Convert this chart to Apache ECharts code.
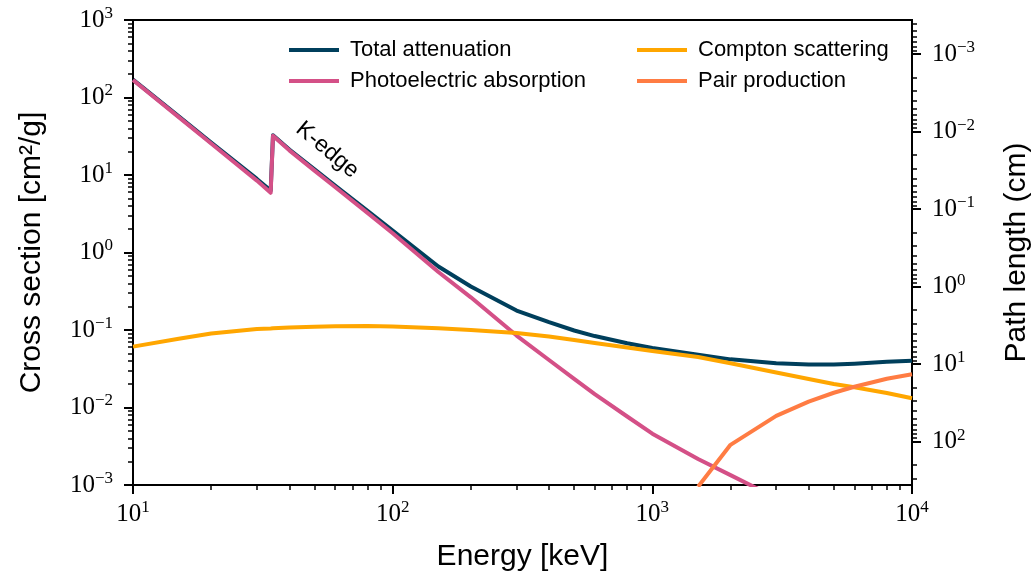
<!DOCTYPE html>
<html><head><meta charset="utf-8">
<script src="https://cdn.jsdelivr.net/npm/echarts@6/dist/echarts.min.js"></script>
<style>html,body{margin:0;padding:0;background:#fff}#c{width:1036px;height:576px}</style>
</head><body><div id="c"></div>
<script>
// ---- data ----
const energies = [10,15,20,30,33.9,34.6,40,50,60,80,100,150,200,300,400,500,600,800,1000,1500,2000,3000,4000,5000,6000,8000,10000];
const totalAttenuation = [170,57,26.2,8.9,6.3,32.5,21.3,11.8,7.3,3.45,1.92,0.66,0.365,0.178,0.126,0.0985,0.0835,0.0675,0.0585,0.0478,0.0418,0.0372,0.0360,0.0358,0.0368,0.0388,0.0400];
const photoelectric = [168,55.8,25.5,8.47,5.9,32,20.8,11.4,7.0,3.24,1.77,0.56,0.264,0.0847,0.041,0.0234,0.01486,0.00765,0.0046,0.00216,0.00134,0.00068,null,null,null,null,null];
const compton = [0.0610,0.0773,0.0902,0.103,0.1045,0.105,0.1076,0.110,0.1117,0.1127,0.1107,0.105,0.100,0.0914,0.0824,0.0743,0.0679,0.0594,0.0536,0.0449,0.0372,0.0283,0.0233,0.0201,0.0183,0.0154,0.01315];
const pairProduction = [null,null,null,null,null,null,null,null,null,null,null,null,null,null,null,null,null,null,null,0.00095,0.0033,0.0078,0.0119,0.0155,0.0185,0.0235,0.0268];
const seriesNames = ['Total attenuation','Photoelectric absorption','Compton scattering','Pair production'];
const energyTicks = [10,100,1000,10000];
const sectionTicks = [1e-3,1e-2,1e-1,1,10,100,1000];
const pathTicks = [1e-3,1e-2,1e-1,1,10,100];
const DENSITY = 2.76; // g/cm^3, links cross section to path length
const SECTION_MIN = 1e-3, SECTION_MAX = 1e3;

// ---- helpers ----
const lg = Math.log10;
function pairs(vals){ const out=[]; energies.forEach((e,i)=>{ if(vals[i]!=null) out.push([e, vals[i]]); }); return out; }
function minorExps(majors){ const out=[]; [majors[0]/10].concat(majors).forEach(m=>{ for(let k=2;k<=9;k++) out.push(lg(m*k)); }); return out; }
function supLabel(e){ e=Math.round(e); return '{b|10}{s|'+String(e).replace('-','\u2212')+'}'; }
const rich = {
  b:{fontFamily:'Liberation Serif',fontSize:25,color:'#000',lineHeight:30},
  s:{fontFamily:'Liberation Serif',fontSize:17,color:'#000',lineHeight:20,verticalAlign:'top'}
};
const colors = ['#003f5c','#d45087','#ffa600','#ff7c43'];
const sans = 'Liberation Sans';
const pathLo = lg(1/(DENSITY*SECTION_MAX)), pathHi = lg(1/(DENSITY*SECTION_MIN));
const xLo = lg(energyTicks[0]), xHi = lg(energyTicks[energyTicks.length-1]);
const yLo = lg(SECTION_MIN), yHi = lg(SECTION_MAX);

const noLine = {show:false, onZero:false};
const titleStyle = {fontFamily:sans, fontSize:30, color:'#000'};
function within(arr, lo, hi){ return arr.filter(v=>v>lo+1e-9 && v<hi-1e-9); }
function majorAxis(lo, hi, ticks, extra){
  return Object.assign({type:'value', min:lo, max:hi, axisLine:noLine, splitLine:{show:false},
    axisTick:{show:true, inside:false, length:9, customValues:ticks, lineStyle:{color:'#000', width:2}},
    axisLabel:{show:true, customValues:ticks, formatter:supLabel, rich:rich, margin:20}}, extra);
}
function minorAxis(lo, hi, ticks, extra){
  return Object.assign({type:'value', min:lo, max:hi, axisLine:noLine, splitLine:{show:false},
    axisTick:{show:true, inside:false, length:5, customValues:within(ticks, lo, hi), lineStyle:{color:'#000', width:1.5}},
    axisLabel:{show:false}}, extra);
}

const chart = echarts.init(document.getElementById('c'), null, {renderer:'canvas'});
const option = {
  animation:false,
  backgroundColor:'#fff',
  grid:{left:133, right:124, top:20, bottom:91, containLabel:false, outerBoundsMode:'none',
        show:true, borderColor:'#000', borderWidth:2, backgroundColor:'transparent'},
  legend:[
    {data:seriesNames.slice(0,2), orient:'vertical', left:284, top:33, itemWidth:50, itemHeight:4, itemGap:7, icon:'rect',
     textStyle:{fontFamily:sans, fontSize:22, color:'#000', lineHeight:24, padding:[0,0,0,6]}},
    {data:seriesNames.slice(2,4), orient:'vertical', left:632, top:33, itemWidth:50, itemHeight:4, itemGap:7, icon:'rect',
     textStyle:{fontFamily:sans, fontSize:22, color:'#000', lineHeight:24, padding:[0,0,0,6]}}
  ],
  xAxis:[
    {type:'log', logBase:10, min:energyTicks[0], max:energyTicks[energyTicks.length-1], show:false, axisLine:noLine},
    majorAxis(xLo, xHi, energyTicks.map(lg), {position:'bottom', name:'Energy [keV]', nameLocation:'middle', nameGap:57, nameTextStyle:titleStyle,
      axisLabel:{show:true, customValues:energyTicks.map(lg), formatter:supLabel, rich:rich, margin:14}}),
    minorAxis(xLo, xHi, minorExps(energyTicks), {position:'bottom'})
  ],
  yAxis:[
    {type:'log', logBase:10, min:SECTION_MIN, max:SECTION_MAX, show:false, axisLine:noLine},
    majorAxis(yLo, yHi, sectionTicks.map(lg), {position:'left', name:'Cross section [cm\u00b2/g]', nameLocation:'middle', nameGap:86, nameTextStyle:titleStyle}),
    minorAxis(yLo, yHi, minorExps(sectionTicks), {position:'left'}),
    majorAxis(pathLo, pathHi, pathTicks.map(lg), {position:'right', inverse:true, name:'Path length (cm)', nameLocation:'middle', nameGap:90, nameTextStyle:titleStyle}),
    minorAxis(pathLo, pathHi, minorExps(pathTicks.concat([1000])), {position:'right', inverse:true})
  ],
  series:[totalAttenuation, photoelectric, compton, pairProduction].map((vals,i)=>({
    name:seriesNames[i], type:'line', xAxisIndex:0, yAxisIndex:0, data:pairs(vals),
    showSymbol:false, symbol:'none', smooth:false, clip:true,
    lineStyle:{color:colors[i], width:4, join:'round'}, itemStyle:{color:colors[i]}
  }))
};
chart.setOption(option);
const kPos = chart.convertToPixel({xAxisIndex:0, yAxisIndex:0}, [56, 21]);
chart.setOption({graphic:[{type:'text', x:kPos[0], y:kPos[1], rotation:-40*Math.PI/180, z:100,
  style:{text:'K-edge', fontFamily:sans, fontSize:23, fill:'#000', align:'center', verticalAlign:'middle'}}]});
</script>
</body></html>
